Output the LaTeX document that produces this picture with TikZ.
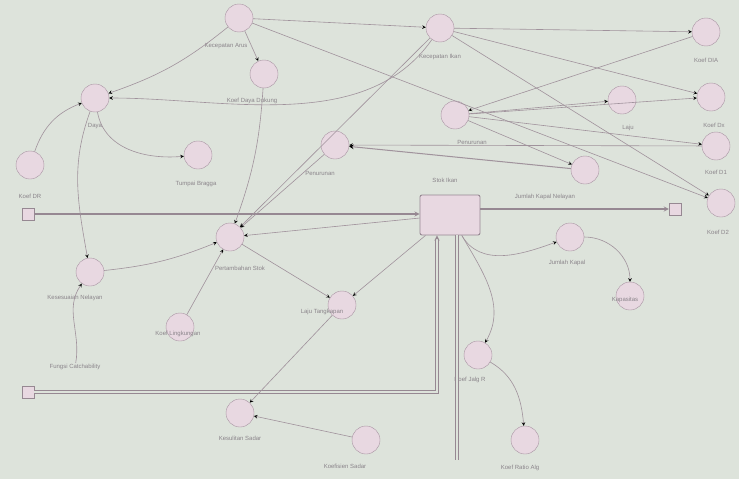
\documentclass[tikz,border=0pt]{standalone}
\usepackage{fontspec}
\setmainfont{Liberation Sans}
\definecolor{bgc}{RGB}{221,227,219}
\definecolor{varfill}{RGB}{232,216,225}
\definecolor{varline}{RGB}{168,148,162}
\definecolor{linkc}{RGB}{160,146,156}
\definecolor{pipec}{RGB}{150,136,146}
\definecolor{lblc}{RGB}{138,132,138}

\begin{document}
\begin{tikzpicture}[x=1pt,y=-1pt,>=stealth,
  var/.style={circle,draw=varline,fill=varfill,minimum size=28pt,inner sep=0pt},
  stock/.style={rectangle,draw=pipec,fill=varfill,line width=0.9pt,rounded corners=2pt,minimum width=60pt,minimum height=40pt},
  sink/.style={rectangle,draw=pipec,fill=varfill,minimum size=12pt,inner sep=0pt},
  lbl/.style={text=lblc,font=\fontsize{6}{7}\selectfont,inner sep=1pt},
  link/.style={draw=linkc,line width=0.6pt},
  pipe/.style={draw=pipec,line width=1.2pt},
  dpipe/.style={draw=pipec,double=bgc,double distance=2pt,line width=0.7pt}]
  \useasboundingbox[fill=bgc] (0,0) rectangle (739,479);

  \node[var] (KEC)  at (239,18)  {};
  \node[lbl] (KEC-l) at (226,46) {Kecepatan Arus};
  \node[var] (KDD)  at (264,74)  {};
  \node[lbl] (KDD-l) at (252,101) {Koef Daya Dukung};
  \node[var] (KIK)  at (440,28)  {};
  \node[lbl] (KIK-l) at (440,57) {Kecepatan Ikan};
  \node[var] (DAYA) at (95,98)   {};
  \node[lbl] (DAYA-l) at (95,126) {Daya};
  \node[var] (KDR)  at (30,165)  {};
  \node[lbl] (KDR-l) at (30,196) {Koef DR};
  \node[var] (TB)   at (198,155) {};
  \node[lbl] (TB-l) at (196,184) {Tumpai Bragga};
  \node[var] (PEN1) at (335,145) {};
  \node[lbl] (PEN1-l) at (320,173) {Penurunan};
  \node[var] (PEN2) at (455,115) {};
  \node[lbl] (PEN2-l) at (472,142) {Penurunan};
  \node[var] (LJU)  at (622,100) {};
  \node[lbl] (LJU-l) at (628,128) {Laju};
  \node[var] (JKN)  at (585,170) {};
  \node[lbl] (JKN-l) at (545,197) {Jumlah Kapal Nelayan};
  \node[stock] (STK) at (450,215) {};
  \node[lbl] (STK-l) at (445,180) {Stok Ikan};
  \node[var] (KDA)  at (706,32)  {};
  \node[lbl] (KDA-l) at (706,60) {Koef DIA};
  \node[var] (KD1)  at (711,97)  {};
  \node[lbl] (KD1-l) at (714,125) {Koef Dx};
  \node[var] (KD2)  at (716,146) {};
  \node[lbl] (KD2-l) at (716,172) {Koef D1};
  \node[var] (KD3)  at (721,203) {};
  \node[lbl] (KD3-l) at (718,232) {Koef D2};

  \node[sink] (CLL) at (28,214)  {};
  \node[sink] (CLR) at (675,209) {};
  \node[sink] (CLB) at (28,392)  {};

  \node[var] (PSK)  at (230,237) {};
  \node[lbl] (PSK-l) at (240,268) {Pertambahan Stok};
  \node[var] (KNL)  at (90,272)  {};
  \node[lbl] (KNL-l) at (75,298) {Kesesuaian Nelayan};
  \node[var] (KOF)  at (180,327) {};
  \node[lbl] (KOF-l) at (178,334) {Koef Lingkungan};
  \node[var] (LJT)  at (342,305) {};
  \node[lbl] (LJT-l) at (322,312) {Laju Tangkapan};
  \node[lbl] (FCT)  at (75,367)  {Fungsi Catchability};
  \node[var] (KSD)  at (240,413) {};
  \node[lbl] (KSD-l) at (240,438) {Kesulitan Sadar};
  \node[var] (KFS)  at (366,440) {};
  \node[lbl] (KFS-l) at (345,466) {Koefisien Sadar};
  \node[var] (JKP)  at (570,237) {};
  \node[lbl] (JKP-l) at (567,263) {Jumlah Kapal};
  \node[var] (KAP)  at (630,296) {};
  \node[lbl] (KAP-l) at (625,300) {Kapasitas};
  \node[var] (KJR)  at (478,355) {};
  \node[lbl] (KJR-l) at (470,380) {Koef Jalg R};
  \node[var] (KRA)  at (525,440) {};
  \node[lbl] (KRA-l) at (520,468) {Koef Ratio Alg};

  \coordinate (BC) at (437,392);
  \coordinate (VE) at (457,460);

  % flows
  \draw[->,pipe] (CLL) -- (STK.west |- CLL);
  \draw[->,pipe] (STK.east |- CLR) -- (CLR);
  \draw[->,dpipe] (CLB) -- (BC) -- (STK.south -| BC);
  \draw[dpipe] (STK.south -| VE) -- (VE);

  % links, left part
  \path[->,link] (KEC)  edge (KIK);
  \path[->,link] (KEC)  edge (KDD);
  \path[->,link] (KEC)  edge[bend left=10] (DAYA);
  \path[->,link] (KIK)  edge[out=235,in=0,looseness=0.9] (DAYA);
  \path[->,link] (KDR)  edge[bend left=25] (DAYA);
  \path[->,link] (DAYA) edge[out=280,in=185] (TB);
  \path[->,link] (DAYA) edge[out=250,in=100] (KNL);
  \path[->,link] (FCT)  edge[out=80,in=235] (KNL);
  \path[->,link] (KNL)  edge[bend right=8] (PSK);
  \path[->,link] (KOF)  edge (PSK);
  \path[->,link] (PSK)  edge (LJT);
  \path[->,link] (STK)  edge (LJT);
  \path[->,link] (LJT)  edge (KSD);
  \path[->,link] (KFS)  edge (KSD);

  % links into the flow rate
  \path[->,link] (KIK)  edge (PSK);
  \path[->,link] (KDD)  edge[bend left=8] (PSK);
  \path[->,link] (PEN1) edge (PSK);
  \path[->,link] (STK)  edge (PSK);

  % links, right part
  \path[->,link] (KIK)  edge (KDA);
  \path[->,link] (KIK)  edge (KD1);
  \path[->,link] (KIK)  edge (KD3);
  \path[->,link] (KEC)  edge (KD3);
  \path[->,link] (KDA)  edge (PEN2);
  \path[->,link] (PEN2) edge (LJU);
  \path[->,link] (PEN2) edge (KD1);
  \path[->,link] (PEN2) edge (KD2);
  \path[->,link] (PEN2) edge (JKN);
  \path[->,link] (KD2)  edge (PEN1);
  \path[->,link,line width=1pt] (JKN) edge (PEN1);
  \path[->,link] (STK)  edge[out=300,in=200] (JKP);
  \path[->,link] (JKP)  edge[out=0,in=90] (KAP);
  \path[->,link] (STK)  edge[out=300,in=60] (KJR);
  \path[->,link] (KJR)  edge[out=330,in=95] (KRA);
\end{tikzpicture}
\end{document}
